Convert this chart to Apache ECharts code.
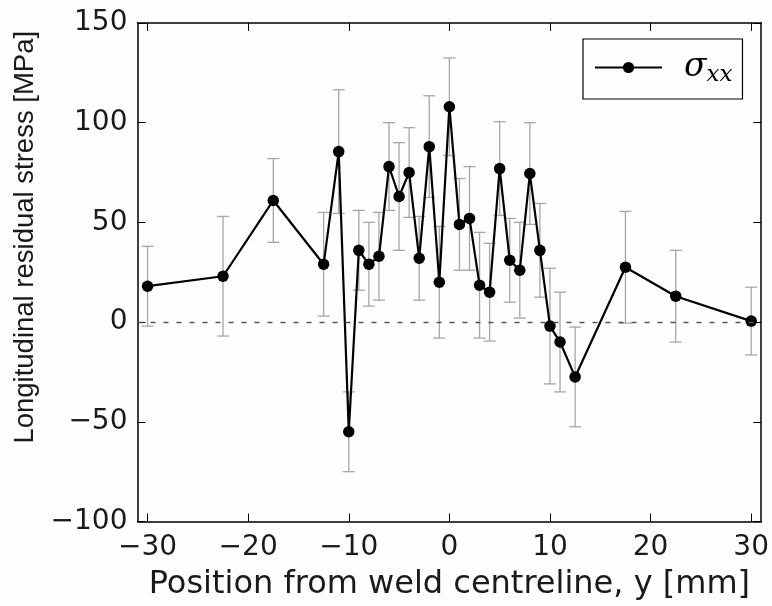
<!DOCTYPE html>
<html>
<head>
<meta charset="utf-8">
<script src="https://cdn.jsdelivr.net/npm/echarts@6/dist/echarts.min.js"></script>
<style>
html,body{margin:0;padding:0;background:#fff;}
#main{width:772px;height:606px;}
</style>
</head>
<body>
<div id="main"></div>
<script>
// Data
var positions = [-30, -22.5, -17.5, -12.5, -11, -10, -9, -8, -7, -6, -5, -4, -3, -2, -1, 0, 1, 2, 3, 4, 5, 6, 7, 8, 9, 10, 11, 12.5, 17.5, 22.5, 30];
var stress = [18, 23, 61, 29, 85.5, -55, 36, 29, 33, 78, 63, 75, 32, 88, 20, 108, 49, 52, 18.5, 15, 77, 31, 26, 74.5, 36, -2, -10, -27.5, 27.5, 13, 0.5];
var errors = [20, 30, 21, 26, 31, 20, 20, 21, 22, 22, 27, 22.5, 21, 25.5, 28, 24.5, 23, 26, 26.5, 24.5, 23.5, 21, 24, 25.5, 23.5, 29, 25, 25, 28, 23, 17];
var xTicks = [-30, -20, -10, 0, 10, 20, 30];
var yTicks = [-100, -50, 0, 50, 100, 150];
var seriesName = 'sigma_xx';

var lineData = positions.map(function (x, i) { return [x, stress[i]]; });
var errData = positions.map(function (x, i) { return [x, stress[i], errors[i]]; });

function fmt(v) { return String(v).replace('-', '\u2212'); }

var chart = echarts.init(document.getElementById('main'), null, {renderer: 'canvas'});
var tickFont = {fontFamily: 'DejaVu Sans', fontSize: 28, color: '#1a1a1a'};
var xCommon = {type: 'value', min: -31, max: 31, splitLine: {show: false},
  axisLine: {show: true, onZero: false, lineStyle: {color: '#000', width: 1.5}}};
var yCommon = {type: 'value', min: yTicks[0], max: yTicks[yTicks.length - 1], interval: 50, splitLine: {show: false},
  axisLine: {show: true, onZero: false, lineStyle: {color: '#000', width: 1.5}}};

chart.setOption({
  backgroundColor: '#fefefe',
  animation: false,
  grid: {left: 137.5, right: 9.5, top: 23, bottom: 84.5, containLabel: false},
  legend: {
    show: true,
    left: 583, top: 39,
    orient: 'vertical',
    padding: [12, 10, 12, 11],
    borderColor: '#000', borderWidth: 1.2, borderRadius: 0,
    itemWidth: 67, itemHeight: 14,
    data: [seriesName],
    formatter: function () { return '{s|\u03c3}{sub|xx}'; },
    textStyle: {
      rich: {
        s: {fontFamily: 'DejaVu Serif', fontStyle: 'italic', fontSize: 33, color: '#000', padding: [0, 0, 0, 17]},
        sub: {fontFamily: 'DejaVu Serif', fontStyle: 'italic', fontSize: 23, color: '#000', verticalAlign: 'bottom', padding: [16, 0, 0, 0]}
      }
    }
  },
  xAxis: [
    Object.assign({}, xCommon, {
      position: 'bottom',
      name: 'Position from weld centreline, y [mm]',
      nameLocation: 'middle', nameGap: 47,
      nameTextStyle: {fontFamily: 'DejaVu Sans', fontSize: 32, color: '#1a1a1a'},
      axisTick: {show: true, inside: true, length: 8, customValues: xTicks, lineStyle: {color: '#000', width: 1}},
      axisLabel: {show: true, margin: 12, customValues: xTicks, formatter: fmt, fontFamily: tickFont.fontFamily, fontSize: tickFont.fontSize, color: tickFont.color}
    }),
    Object.assign({}, xCommon, {
      position: 'top',
      axisTick: {show: true, inside: true, length: 8, customValues: xTicks, lineStyle: {color: '#000', width: 1}},
      axisLabel: {show: false}
    })
  ],
  yAxis: [
    Object.assign({}, yCommon, {
      position: 'left',
      name: 'Longitudinal residual stress [MPa]',
      nameLocation: 'middle', nameGap: 96,
      nameTextStyle: {fontFamily: 'Liberation Sans', fontSize: 27.5, color: '#1a1a1a', padding: [0, 0, 0, 70]},
      axisTick: {show: true, inside: true, length: 8, customValues: yTicks, lineStyle: {color: '#000', width: 1}},
      axisLabel: {show: true, margin: 10, customValues: yTicks, formatter: fmt, fontFamily: tickFont.fontFamily, fontSize: tickFont.fontSize, color: tickFont.color}
    }),
    Object.assign({}, yCommon, {
      position: 'right',
      axisTick: {show: true, inside: true, length: 8, customValues: yTicks, lineStyle: {color: '#000', width: 1}},
      axisLabel: {show: false}
    })
  ],
  series: [
    {
      type: 'custom',
      name: 'err',
      xAxisIndex: 0, yAxisIndex: 0,
      z: 1,
      silent: true,
      data: errData,
      renderItem: function (params, api) {
        var x = api.value(0), y = api.value(1), e = api.value(2);
        var hi = api.coord([x, y + e]);
        var lo = api.coord([x, y - e]);
        var hw = 6;
        var st = {stroke: '#a6a6a6', lineWidth: 1.3};
        return {
          type: 'group',
          children: [
            {type: 'line', shape: {x1: hi[0], y1: hi[1], x2: lo[0], y2: lo[1]}, style: st},
            {type: 'line', shape: {x1: hi[0] - hw, y1: hi[1], x2: hi[0] + hw, y2: hi[1]}, style: st},
            {type: 'line', shape: {x1: lo[0] - hw, y1: lo[1], x2: lo[0] + hw, y2: lo[1]}, style: st}
          ]
        };
      }
    },
    {
      type: 'line',
      name: seriesName,
      xAxisIndex: 0, yAxisIndex: 0,
      z: 3,
      data: lineData,
      symbol: 'circle', symbolSize: 11.5,
      showSymbol: true,
      lineStyle: {color: '#000', width: 2.2},
      itemStyle: {color: '#000'},
      markLine: {
        silent: true, symbol: 'none', label: {show: false},
        lineStyle: {color: '#555', width: 1.4, type: [5, 8]},
        data: [{yAxis: 0}]
      }
    }
  ]
});
</script>
</body>
</html>
